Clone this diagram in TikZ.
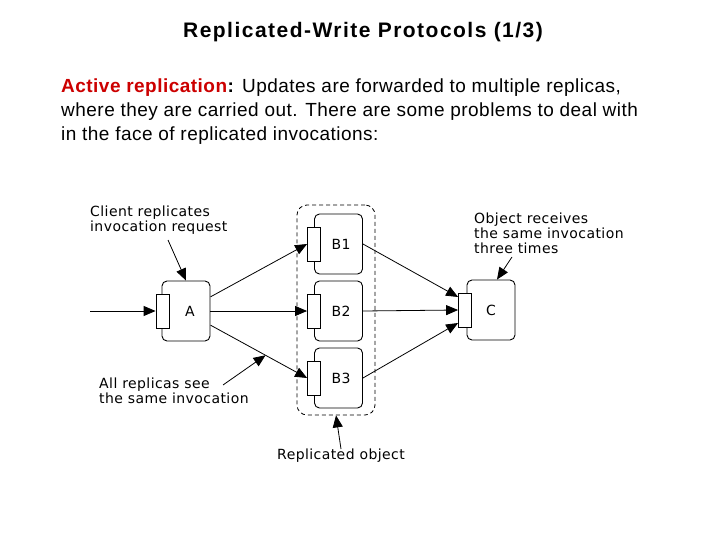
\documentclass[tikz,border=0pt]{standalone}
\usepackage{fontspec}
\setmainfont{Liberation Sans}
\newfontfamily\titlefont{Liberation Sans}[LetterSpace=7]
\newfontfamily\bodyfont{Liberation Sans}[LetterSpace=2.5]
\newfontfamily\dejavu{DejaVu Sans}[LetterSpace=3]
\usetikzlibrary{arrows.meta,calc}
\definecolor{cRed}{HTML}{CC0000}

\begin{document}
\begin{tikzpicture}[
   x=1pt, y=-1pt, >={Triangle[length=12pt,width=10pt]},
   obj/.style={draw, rounded corners=5pt, line width=0.9pt, minimum width=48pt,
               minimum height=60pt, inner sep=0pt, font=\dejavu\fontsize{14}{15}\selectfont},
   port/.style={draw, fill=white, line width=0.9pt, minimum width=13pt,
                minimum height=34pt, inner sep=0pt},
   call/.style={->, line width=0.8pt},
   note/.style={align=left, inner sep=0pt, font=\dejavu\fontsize{14}{15}\selectfont}]
  \useasboundingbox (0,0) rectangle (720,540);
  \node[font=\titlefont\bfseries\fontsize{21}{24}\selectfont] (title) at (363,32) {Replicated-Write Protocols (1/3)};
  \node[anchor=north west, align=left, inner sep=0pt, font=\bodyfont\fontsize{19}{24}\selectfont] (body) at (61,79)
     {\textcolor{cRed}{\textbf{Active replication}}\textbf{:} Updates are forwarded to multiple replicas,\\
      where they are carried out. There are some problems to deal with\\
      in the face of replicated invocations:};
  % replicated object
  \node[draw, dashed, dash pattern=on 4pt off 3pt, rounded corners=10pt, line width=0.8pt,
        minimum width=78pt, minimum height=210pt] (grp) at (336,310) {};
  \node[obj] (A)  at (186,311)   {\hspace{8pt}A};
  \node[obj] (B1) at (338.5,244) {\hspace{5pt}B1};
  \node[obj] (B2) at (338.5,311) {\hspace{5pt}B2};
  \node[obj] (B3) at (338.5,378) {\hspace{5pt}B3};
  \node[obj] (C)  at (491,310)   {C};
  \node[port] (Ap)  at ($(A.west)+(1,0)$) {};
  \node[port] (B1p) at (B1.west) {};
  \node[port] (B2p) at (B2.west) {};
  \node[port] (B3p) at (B3.west) {};
  \node[port] (Cp)  at ($(C.west)+(-1.5,0)$) {};
  % invocations
  \coordinate (in) at (90,311);
  \draw[call] (in) -- (Ap.west);
  \draw[call] (A.30) -- (B1p.west);
  \draw[call] (A.east) -- (B2p.west);
  \draw[call] (A.-30) -- coordinate[pos=0.57] (seen) (B3p.west);
  \draw[call] (B1.east) -- ($(Cp.west)+(0,-13)$);
  \draw[call] (B2.east) -- (Cp.west);
  \draw[call] (B3.east) -- ($(Cp.west)+(0,13)$);
  % notes
  \node[note, anchor=west] (clientnote) at (90,220) {Client replicates\\invocation request};
  \coordinate (clienttail) at (168,240);
  \draw[call] (clienttail) -- (A.north);
  \node[note, anchor=west] (objnote) at (474,233) {Object receives\\the same invocation\\three times};
  \coordinate (objtail) at (512,257);
  \draw[call] (objtail) -- ($(C.north)+(6,0)$);
  \node[note, anchor=west] (seenote) at (99,391) {All replicas see\\the same invocation};
  \coordinate (seetail) at (223,385);
  \draw[call] (seetail) -- (seen);
  \node[note] (grpnote) at (341,456) {Replicated object};
  \draw[call] (grpnote.north) -- (grp.south);
\end{tikzpicture}
\end{document}
